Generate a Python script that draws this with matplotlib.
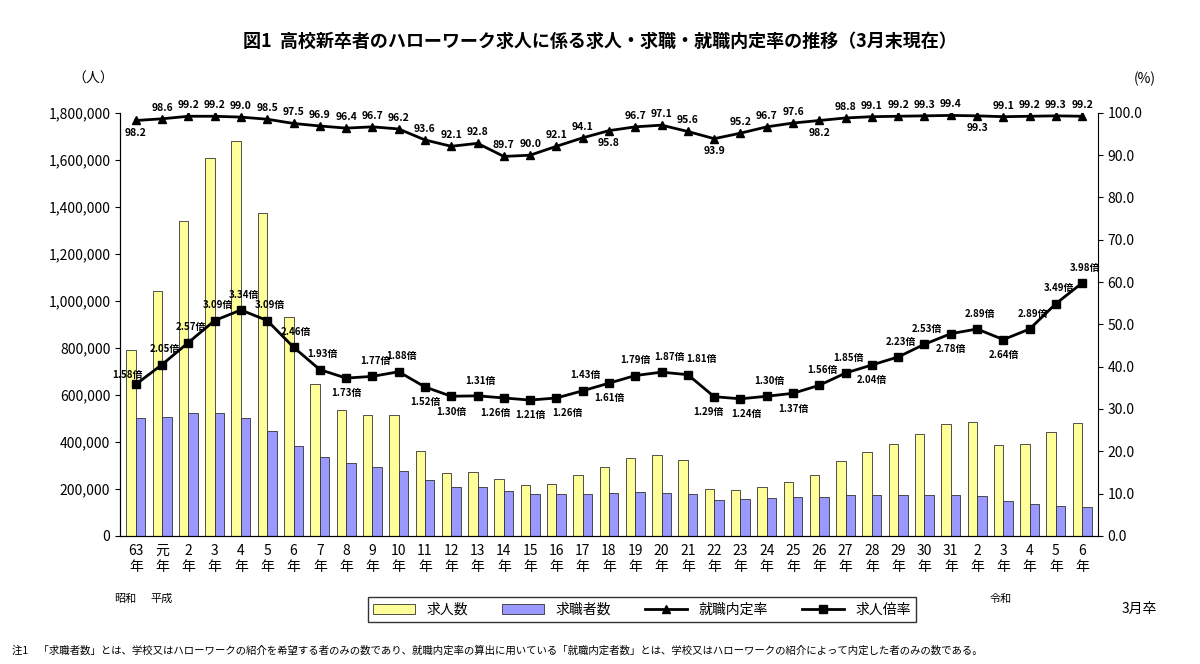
import numpy as np
import matplotlib
matplotlib.use('Agg')
from matplotlib import pyplot as plt
from matplotlib.ticker import FuncFormatter

plt.rcParams['font.family'] = ['Noto Sans CJK JP', 'DejaVu Sans']

years = ['63', '元'] + [str(i) for i in range(2, 32)] + [str(i) for i in range(2, 7)]
openings = [790000, 1040000, 1340000, 1610000, 1680000, 1375000, 930000, 645000, 535000, 515000,
            515000, 360000, 268000, 272000, 242000, 215000, 222000, 258000, 295000, 333000,
            345000, 322000, 198000, 195000, 208000, 228000, 258000, 318000, 355000, 390000,
            435000, 478000, 485000, 388000, 390000, 443000, 482000]
seekers = [500000, 507000, 521000, 521000, 503000, 445000, 381000, 335000, 309000, 292000,
           274000, 236000, 206000, 208000, 192000, 178000, 176000, 180000, 183000, 186000,
           184000, 178000, 153000, 157000, 160000, 166000, 165000, 172000, 174000, 175000,
           172000, 172000, 168000, 147000, 135000, 127000, 121000]
rate = [98.2, 98.6, 99.2, 99.2, 99.0, 98.5, 97.5, 96.9, 96.4, 96.7, 96.2, 93.6, 92.1, 92.8, 89.7,
        90.0, 92.1, 94.1, 95.8, 96.7, 97.1, 95.6, 93.9, 95.2, 96.7, 97.6, 98.2, 98.8, 99.1, 99.2,
        99.3, 99.4, 99.3, 99.1, 99.2, 99.3, 99.2]
ratio = [1.58, 2.05, 2.57, 3.09, 3.34, 3.09, 2.46, 1.93, 1.73, 1.77, 1.88, 1.52, 1.30, 1.31, 1.26,
         1.21, 1.26, 1.43, 1.61, 1.79, 1.87, 1.81, 1.29, 1.24, 1.30, 1.37, 1.56, 1.85, 2.04, 2.23,
         2.53, 2.78, 2.89, 2.64, 2.89, 3.49, 3.98]
rate_below = {0, 18, 22, 26, 32}
ratio_below = {8, 11, 12, 14, 15, 16, 18, 22, 23, 25, 28, 31, 33}
# horizontal nudges for crowded ratio labels (points)
ratio_dx = {14: -6, 15: 0, 16: 8, 22: -4, 23: 4, 20: 4, 21: 8, 19: -2}

x = np.arange(len(years))
fig = plt.figure(figsize=(12, 6.64), dpi=100)
ax = fig.add_axes([0.1, 0.193, 0.815, 0.637])
w = 0.36
ax.bar(x - w / 2, openings, w, color='#ffff99', edgecolor='#333333', linewidth=0.6, label='求人数')
ax.bar(x + w / 2, seekers, w, color='#9999ff', edgecolor='#333333', linewidth=0.6, label='求職者数')
ax.set_ylim(0, 1800000)
ax.set_yticks(np.arange(0, 1800001, 200000))
ax.yaxis.set_major_formatter(FuncFormatter(lambda v, p: f'{int(v):,}'))
ax.set_xlim(-0.6, len(years) - 0.4)
ax.set_xticks(x)
ax.set_xticklabels([f'{y}\n年' for y in years], fontsize=10)
ax.tick_params(axis='x', length=0, pad=6)
ax.tick_params(axis='y', labelsize=10)
for s in ['top', 'right']:
    ax.spines[s].set_visible(False)

ax2 = ax.twinx()
ax2.set_ylim(0, 100)
ax2.set_yticks(np.arange(0, 101, 10))
ax2.yaxis.set_major_formatter(FuncFormatter(lambda v, p: f'{v:.1f}'))
ax2.tick_params(axis='y', labelsize=10)
ax2.spines['top'].set_visible(False)
l1, = ax2.plot(x, rate, color='black', marker='^', markersize=6, linewidth=2, label='就職内定率')
ratio_plot = [r * 10 + 20 for r in ratio]
l2, = ax2.plot(x, ratio_plot, color='black', marker='s', markersize=6, linewidth=2, label='求人倍率')
for i in x:
    dy = -9 if i in rate_below else 8
    ax2.annotate(f'{rate[i]:.1f}', (i, rate[i]), textcoords='offset points', xytext=(0, dy),
                 ha='center', va='center', fontsize=7.5, fontweight='bold')
    if i == 0:
        off = (-6, 7)
    elif i in ratio_below:
        off = (ratio_dx.get(i, 0), -11)
    else:
        off = (2 + ratio_dx.get(i, 0), 11)
    ax2.annotate(f'{ratio[i]:.2f}倍', (i, ratio_plot[i]), textcoords='offset points', xytext=off,
                 ha='center', va='center', fontsize=7, fontweight='bold')

h1, lab1 = ax.get_legend_handles_labels()
fig.legend(h1 + [l1, l2], lab1 + ['就職内定率', '求人倍率'], loc='center', ncol=4,
           bbox_to_anchor=(0.535, 0.082), fontsize=10, frameon=True, edgecolor='black',
           fancybox=False, handlelength=3, columnspacing=2.5)

fig.text(0.5, 0.93, '図1  高校新卒者のハローワーク求人に係る求人・求職・就職内定率の推移（3月末現在）',
         ha='center', fontsize=13, fontweight='bold')
fig.text(0.06, 0.875, '（人）', fontsize=10)
fig.text(0.945, 0.875, '(%)', fontsize=10)
fig.text(0.095, 0.093, '昭和', fontsize=8)
fig.text(0.125, 0.093, '平成', fontsize=8)
fig.text(0.825, 0.093, '令和', fontsize=8)
fig.text(0.935, 0.077, '3月卒', fontsize=10)
fig.text(0.01, 0.015, '注1　「求職者数」とは、学校又はハローワークの紹介を希望する者のみの数であり、就職内定率の算出に用いている「就職内定者数」とは、学校又はハローワークの紹介によって内定した者のみの数である。',
         fontsize=7.5)
fig.savefig('out.png')
